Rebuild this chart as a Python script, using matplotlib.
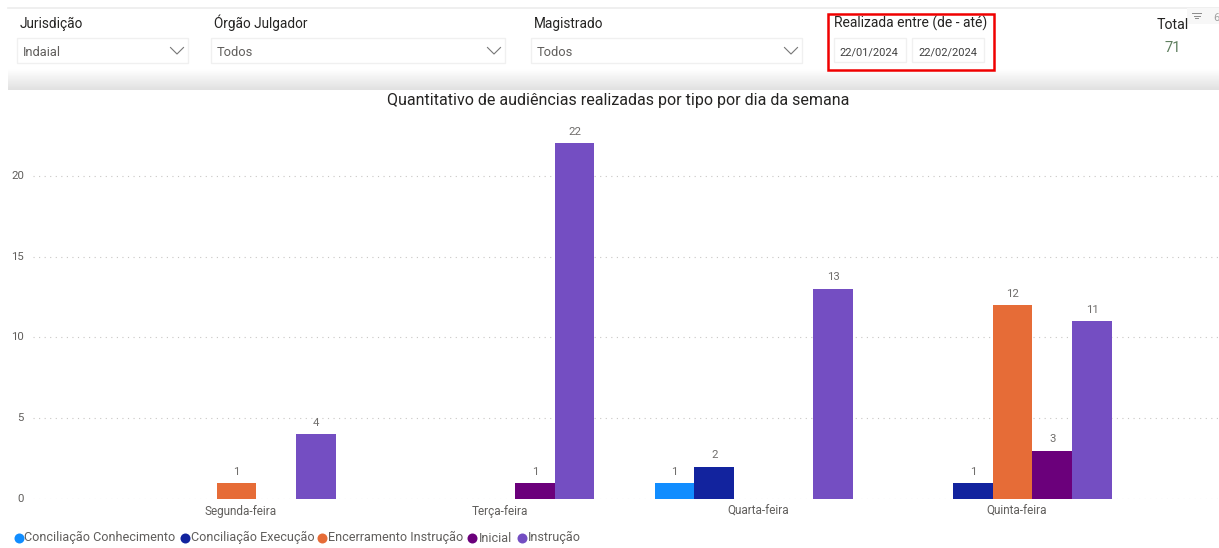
import numpy as np
import matplotlib
matplotlib.use("Agg")
import matplotlib.pyplot as plt
from matplotlib.patches import Rectangle
from matplotlib.lines import Line2D

plt.rcParams['font.family'] = ['Roboto', 'DejaVu Sans']

W, H = 1219, 548
days = ["Segunda-feira", "Terça-feira", "Quarta-feira", "Quinta-feira"]
series_names = ["Conciliação Conhecimento", "Conciliação Execução",
                "Encerramento Instrução", "Inicial", "Instrução"]
conc_conhecimento = [0, 0, 1, 0]
conc_execucao = [0, 0, 2, 1]
encerramento = [1, 0, 0, 12]
inicial = [0, 1, 0, 3]
instrucao = [4, 22, 13, 11]
series_values = [conc_conhecimento, conc_execucao, encerramento, inicial, instrucao]
colors = ["#118DFF", "#12239E", "#E66C37", "#6B007B", "#744EC2"]
y_ticks = [0, 5, 10, 15, 20]
title = "Quantitativo de audiências realizadas por tipo por dia da semana"
total_value = "71"

fig = plt.figure(figsize=(W / 100, H / 100), dpi=100, facecolor="white")

# chart axes: left 33 px, right 1219 px, top 120 px, bottom 499 px
unit_px = 16.18
base_px = 499.2
ax = fig.add_axes([33 / W, 1 - base_px / H, (W - 33) / W, (base_px - 120) / H])
group_px = 258.7
slot = 39.7 / group_px
ax.set_xlim((33 - 236.5) / group_px, (W - 236.5) / group_px)
ax.set_ylim(0, (base_px - 120) / unit_px)
x = np.arange(len(days))
for i, (vals, c) in enumerate(zip(series_values, colors)):
    xs = x + (i - 2) * slot
    for xi, v in zip(xs, vals):
        if v > 0:
            ax.bar(xi, v, width=slot * 0.998, color=c, zorder=3)
            ax.annotate(str(v), (xi, v), xytext=(0, 4.6), textcoords="offset points",
                        ha="center", va="bottom", fontsize=8.2, color="#706E6C")
ax.set_yticks(y_ticks)
ax.set_xticks(x)
ax.set_xticklabels([])
ax.set_yticklabels([])
ax.tick_params(axis="both", length=0)
ax.grid(axis="y", linestyle=(0, (1, 4)), color="#C8C6C4", linewidth=0.8, zorder=0)
for s in ax.spines.values():
    s.set_visible(False)
ax.patch.set_alpha(0)

# overlay in pixel coordinates for the report chrome
ov = fig.add_axes([0, 0, 1, 1], zorder=5)
ov.set_xlim(0, W)
ov.set_ylim(H, 0)
ov.axis("off")
ov.patch.set_alpha(0)

# header band with gradient
grad = np.concatenate([np.full(60, 1.0), np.linspace(1.0, 0.88, 22)])[:, None]
ov.imshow(grad, extent=[8, W, 90, 8], aspect="auto", cmap="gray", vmin=0, vmax=1, zorder=1)
ov.set_xlim(0, W)
ov.set_ylim(H, 0)
ov.add_line(Line2D([8, W], [8, 8], color="#ECECEC", lw=1.2, zorder=2))

def label(x0, y0, s, size=9.8, color="#252423", **kw):
    ov.text(x0, y0, s, fontsize=size, color=color, va="baseline", zorder=5, **kw)

def slicer(x0, x1, y0, y1, text):
    ov.add_patch(Rectangle((x0, y0), x1 - x0, y1 - y0, fc="white", ec="#F0F0F0", lw=1, zorder=3))
    label(x0 + 6, 56.5, text, size=9.3, color="#605E5C")
    cx = x1 - 11
    ov.add_line(Line2D([cx - 6.5, cx, cx + 6.5], [47.5, 54, 47.5], color="#777777", lw=0.8, zorder=4))

label(20, 28, "Jurisdição")
label(214, 28, "Órgão Julgador")
label(534, 28, "Magistrado")
slicer(17, 188, 38, 63, "Indaial")
slicer(211, 505, 38, 63, "Todos")
slicer(531, 802, 38, 63, "Todos")

# date slicer
label(833.5, 28, "Realizada entre (de - até)", size=10)
for x0, x1, txt in [(834, 905.5, "22/01/2024"), (912, 984, "22/02/2024")]:
    ov.add_patch(Rectangle((x0, 38), x1 - x0, 24, fc="white", ec="#F0F0F0", lw=1, zorder=3))
    ov.text((x0 + x1) / 2 - 0.5, 55, txt, fontsize=7.9, color="#404040", ha="center", va="baseline", zorder=5)
ov.add_patch(Rectangle((828, 14), 165.5, 56, fc="none", ec="#F00000", lw=1.8, zorder=6))

# total card
ov.text(1173, 29, "Total", fontsize=10.2, color="#252423", ha="center", va="baseline", zorder=5)
ov.text(1173, 52, total_value, fontsize=10.6, color="#5F7F5F", ha="center", va="baseline", zorder=5)
ov.add_patch(Rectangle((1187, 8), 32, 16, fc="#F7F7F7", ec="none", zorder=4))
for y0, hw in [(13, 4.5), (15.5, 3), (18, 1.5)]:
    ov.add_line(Line2D([1196.5 - hw, 1196.5 + hw], [y0, y0], color="#8A8A8A", lw=0.7, zorder=5))
ov.text(1216.5, 18, "6", fontsize=8, color="#A0A0A0", ha="center", va="center", zorder=5)

# chart title
ov.text(618, 105, title, fontsize=11.5, color="#252423", ha="center", va="baseline", zorder=5)

# axis labels
for v in y_ticks:
    ov.text(24, base_px - v * unit_px, str(v), fontsize=8.2, color="#605E5C", ha="right", va="center", zorder=5)
for i, d in enumerate(days):
    ov.text(241 + i * group_px, 515, d, fontsize=8.5, color="#605E5C", ha="center", va="baseline", zorder=5)

# legend
leg_dots = [18.5, 185, 322, 471.5, 521.5]
leg_text = [24.5, 191, 328, 478.5, 527.5]
for dx, tx, name, c in zip(leg_dots, leg_text, series_names, colors):
    ov.plot([dx], [537.5], "o", ms=7.2, color=c, mew=0, zorder=5)
    ov.text(tx, 541.5, name, fontsize=9.05, color="#605E5C", va="baseline", zorder=5)

fig.savefig("out.png", dpi=100)
